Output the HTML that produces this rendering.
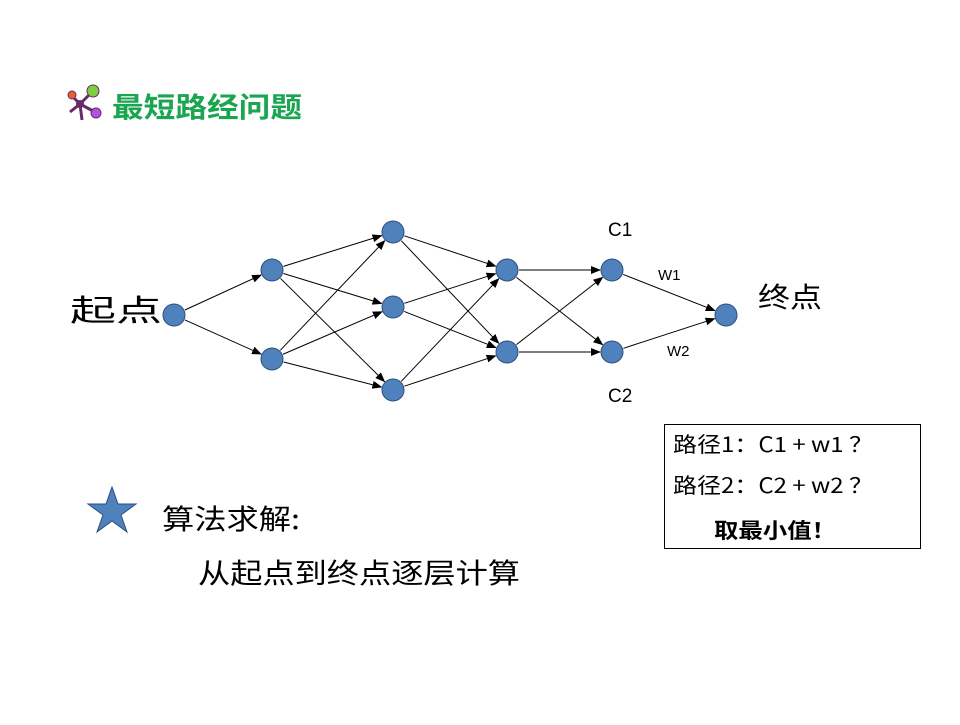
<!DOCTYPE html>
<html><head><meta charset="utf-8"><style>
body{margin:0;background:#fff;width:960px;height:720px;overflow:hidden;font-family:"Liberation Sans","Noto Sans CJK SC",sans-serif;}
</style></head><body>
<svg id="s" width="960" height="720" viewBox="0 0 960 720" xmlns="http://www.w3.org/2000/svg">
<defs><marker id="a" markerWidth="10" markerHeight="8" refX="9" refY="4" orient="auto" markerUnits="userSpaceOnUse"><path d="M0,0 L10,4 L0,8 z" fill="#000"/></marker></defs>
<g>
<line x1="80" y1="104" x2="72" y2="96" stroke="#6a2a6a" stroke-width="3"/>
<line x1="80" y1="104" x2="92" y2="92" stroke="#6a2a6a" stroke-width="3"/>
<line x1="80" y1="104" x2="95" y2="112" stroke="#6a2a6a" stroke-width="3"/>
<line x1="80" y1="104" x2="70" y2="112" stroke="#6a2a6a" stroke-width="3"/>
<line x1="80" y1="104" x2="82" y2="120" stroke="#6a2a6a" stroke-width="3"/>
<circle cx="80" cy="104" r="4" fill="#6a2a6a"/>
<circle cx="72" cy="95" r="4" fill="#e8602a" stroke="#6a2a6a"/>
<circle cx="93" cy="91" r="6" fill="#7cd040" stroke="#6a2a6a"/>
<circle cx="96" cy="113" r="5" fill="#b050e0" stroke="#6a2a6a"/>
</g>
<text x="112" y="117" font-size="28" font-weight="bold" fill="#1aa550" font-family="'Noto Sans CJK SC',sans-serif" textLength="190" lengthAdjust="spacingAndGlyphs">最短路经问题</text>
<g id="edges" stroke="#000" stroke-width="1"></g>
<g id="nodes" fill="#4f81bd" stroke="#2c4f7c" stroke-width="1"></g>
<g font-size="19" fill="#000">
<text x="608" y="236">C1</text>
<text x="608" y="402">C2</text>
</g>
<g font-size="15"><text x="658" y="280">W1</text><text x="667" y="356">W2</text></g>
<g font-size="28" font-family="'Noto Sans CJK SC',sans-serif">
<text x="70" y="321" font-size="30" textLength="92" lengthAdjust="spacingAndGlyphs">起点</text>
<text x="758" y="307" textLength="64" lengthAdjust="spacingAndGlyphs">终点</text>
<text x="162" y="529" textLength="138" lengthAdjust="spacingAndGlyphs">算法求解:</text>
<text x="198" y="583" textLength="322" lengthAdjust="spacingAndGlyphs">从起点到终点逐层计算</text>
</g>
<polygon points="112,487 118,504 136,504 121,515 127,532 112,521 97,532 103,515 88,504 106,504" fill="#4f81bd" stroke="#2c4f7c"/>
<rect x="664.5" y="424.5" width="256" height="124" fill="none" stroke="#000"/>
<g font-size="21" font-family="'Noto Sans CJK SC',sans-serif">
<text x="673" y="452" textLength="200" lengthAdjust="spacingAndGlyphs">路径1：C1 + w1 ？</text>
<text x="673" y="493" textLength="200" lengthAdjust="spacingAndGlyphs">路径2：C2 + w2 ？</text>
<text x="714" y="538" font-weight="bold" textLength="122" lengthAdjust="spacingAndGlyphs">取最小值！</text>
</g>
</svg>
<script>
var N={A:[174,315],B1:[272,270],B2:[272,359],C1:[393,232],C2:[393,307],C3:[393,390],D1:[507,270],D2:[507,352],E1:[612,270],E2:[612,352],F:[726,315]};
var E=[["A","B1"],["A","B2"],["B1","C1"],["B1","C2"],["B1","C3"],["B2","C1"],["B2","C2"],["B2","C3"],["C1","D1"],["C1","D2"],["C2","D1"],["C2","D2"],["C3","D1"],["C3","D2"],["D1","E1"],["D1","E2"],["D2","E1"],["D2","E2"],["E1","F"],["E2","F"]];
var ns="http://www.w3.org/2000/svg",eg=document.getElementById("edges"),ng=document.getElementById("nodes");
E.forEach(function(e){var p=N[e[0]],q=N[e[1]],dx=q[0]-p[0],dy=q[1]-p[1],l=Math.hypot(dx,dy),r=12;
var l1=document.createElementNS(ns,"line");l1.setAttribute("x1",p[0]+dx/l*r);l1.setAttribute("y1",p[1]+dy/l*r);l1.setAttribute("x2",q[0]-dx/l*r);l1.setAttribute("y2",q[1]-dy/l*r);l1.setAttribute("marker-end","url(#a)");eg.appendChild(l1);});
for(var k in N){var c=document.createElementNS(ns,"circle");c.setAttribute("cx",N[k][0]);c.setAttribute("cy",N[k][1]);c.setAttribute("r",11);ng.appendChild(c);}
</script>
</body></html>
